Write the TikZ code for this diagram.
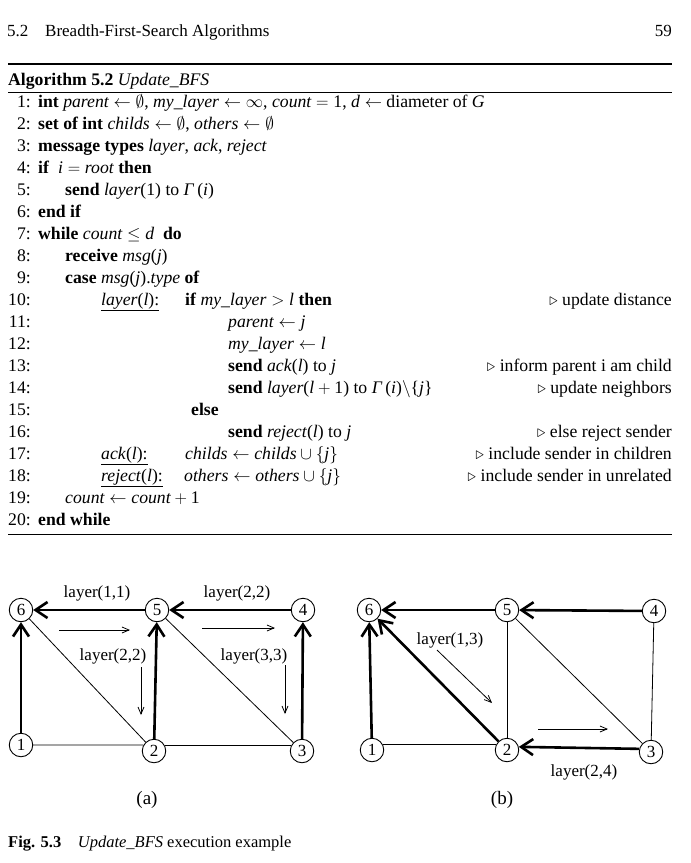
\documentclass[tikz,border=0pt]{standalone}
\usepackage{fontspec}
\setmainfont{Liberation Serif}
\usetikzlibrary{arrows.meta}
\begin{document}
\begin{tikzpicture}[x=1pt,y=-1pt,
    font=\fontsize{17.7}{22}\selectfont,
    txt/.style={inner sep=0pt,anchor=base west},
    num/.style={inner sep=0pt,anchor=base east},
    rem/.style={inner sep=0pt,anchor=base east},
    small/.style={font=\fontsize{17}{20}\selectfont},
    vertex/.style={draw,circle,minimum size=23.5pt,inner sep=0pt,line width=0.9pt,small},
    tree/.style={line width=2.6pt,-{Straight Barb[length=12pt,width=16pt]}},
    plain/.style={line width=0.8pt},
    msg/.style={line width=0.8pt,-{Straight Barb[length=7pt,width=6pt]}}]
  \useasboundingbox (0,0) rectangle (691,863);
  % running head
  \node[txt,font=\fontsize{17}{20}\selectfont] (sec) at (7,36) {5.2};
  \node[txt,font=\fontsize{17}{20}\selectfont] (head) at (45,36) {Breadth-First-Search Algorithms};
  \node[num,font=\fontsize{17}{20}\selectfont] (page) at (672,36) {59};
  % algorithm box
  \draw[line width=1.6pt] (8,64) -- (672,64);
  \node[txt] (title) at (8,85) {\textbf{Algorithm 5.2} \textit{Update\_BFS}};
  \draw[line width=0.8pt] (8,92) -- (672,92);
  \draw[line width=0.8pt] (8,534) -- (672,534);
  \node[num] (n1) at (31,107) {1:};
  \node[num] (n2) at (31,129) {2:};
  \node[num] (n3) at (31,151) {3:};
  \node[num] (n4) at (31,173) {4:};
  \node[num] (n5) at (31,195) {5:};
  \node[num] (n6) at (31,217) {6:};
  \node[num] (n7) at (31,239) {7:};
  \node[num] (n8) at (31,261) {8:};
  \node[num] (n9) at (31,283) {9:};
  \node[num] (n10) at (31,305) {10:};
  \node[num] (n11) at (31,327) {11:};
  \node[num] (n12) at (31,349) {12:};
  \node[num] (n13) at (31,371) {13:};
  \node[num] (n14) at (31,393) {14:};
  \node[num] (n15) at (31,415) {15:};
  \node[num] (n16) at (31,437) {16:};
  \node[num] (n17) at (31,459) {17:};
  \node[num] (n18) at (31,481) {18:};
  \node[num] (n19) at (31,503) {19:};
  \node[num] (n20) at (31,525) {20:};
  \node[txt] (l1) at (38,107) {\textbf{int} $\textit{parent}\leftarrow\emptyset$, $\textit{my\_layer}\leftarrow\infty$, $\textit{count}=\textup{1}$, $\textit{d}\leftarrow$ diameter of \textit{G}};
  \node[txt] (l2) at (38,129) {\textbf{set of int} $\textit{childs}\leftarrow\emptyset$, $\textit{others}\leftarrow\emptyset$};
  \node[txt] (l3) at (38,151) {\textbf{message types} \textit{layer}, \textit{ack}, \textit{reject}};
  \node[txt] (l4) at (38,173) {\textbf{if}\ \ $\textit{i}=\textit{root}$ \textbf{then}};
  \node[txt] (l5) at (65,195) {\textbf{send} \textit{layer}(1) to \textit{Γ}\,(\textit{i})};
  \node[txt] (l6) at (38,217) {\textbf{end if}};
  \node[txt] (l7) at (38,239) {\textbf{while} $\textit{count}\le\textit{d}$\ \ \textbf{do}};
  \node[txt] (l8) at (65,261) {\textbf{receive} \textit{msg}(\textit{j})};
  \node[txt] (l9) at (65,283) {\textbf{case} \textit{msg}(\textit{j}).\textit{type} \textbf{of}};
  \node[txt] (c10) at (101,305) {\underline{\textit{layer}(\textit{l}):}};
  \node[txt] (l10) at (185,305) {\textbf{if} $\textit{my\_layer}>\textit{l}$ \textbf{then}};
  \node[txt] (l11) at (228,327) {$\textit{parent}\leftarrow\textit{j}$};
  \node[txt] (l12) at (228,349) {$\textit{my\_layer}\leftarrow\textit{l}$};
  \node[txt] (l13) at (228,371) {\textbf{send} \textit{ack}(\textit{l}) to\ \textit{j}};
  \node[txt] (l14) at (228,393) {\textbf{send} \textit{layer}($\textit{l}+\textup{1}$) to \textit{Γ}\,(\textit{i})$\setminus$\{\textit{j}\}};
  \node[txt] (l15) at (191,415) {\textbf{else}};
  \node[txt] (l16) at (228,437) {\textbf{send} \textit{reject}(\textit{l}) to\ \textit{j}};
  \node[txt] (c17) at (101,459) {\underline{\textit{ack}(\textit{l}):}};
  \node[txt] (l17) at (185,459) {$\textit{childs}\leftarrow\textit{childs}\cup\{\textit{j}\}$};
  \node[txt] (c18) at (101,481) {\underline{\textit{reject}(\textit{l}):}};
  \node[txt] (l18) at (184,481) {$\textit{others}\leftarrow\textit{others}\cup\{\textit{j}\}$};
  \node[txt] (l19) at (65,503) {$\textit{count}\leftarrow\textit{count}+\textup{1}$};
  \node[txt] (l20) at (38,525) {\textbf{end while}};
  \node[rem] (r10) at (672,305) {$\triangleright$ update distance};
  \node[rem] (r13) at (672,371) {$\triangleright$ inform parent i am child};
  \node[rem] (r14) at (672,393) {$\triangleright$ update neighbors};
  \node[rem] (r16) at (672,437) {$\triangleright$ else reject sender};
  \node[rem] (r17) at (672,459) {$\triangleright$ include sender in children};
  \node[rem] (r18) at (672,481) {$\triangleright$ include sender in unrelated};
  % graph (a)
  \draw
    (21,610) node[vertex] (a6){6}
    (157,610) node[vertex] (a5){5}
    (303,610) node[vertex] (a4){4}
    (21,745) node[vertex] (a1){1}
    (154,751) node[vertex] (a2){2}
    (302,751) node[vertex] (a3){3};
  \begin{scope}[plain]
    \draw (a6) to (a2);
    \draw (a5) to (a3);
    \draw (a1) to (a2.150);
    \draw (a2.30) to (a3.150);
  \end{scope}
  \begin{scope}[tree]
    \draw (a1) to (a6);
    \draw (a5) to (a6);
    \draw (a4) to (a5);
    \draw (a2) to (a5);
    \draw (a3) to (a4);
  \end{scope}
  \coordinate (p1) at (59,630);  \coordinate (q1) at (130,630);
  \coordinate (p2) at (202,628); \coordinate (q2) at (275,628);
  \coordinate (p3) at (141,667); \coordinate (q3) at (141,715);
  \coordinate (p4) at (285,665); \coordinate (q4) at (285,714);
  \begin{scope}[msg]
    \draw (p1) to (q1);
    \draw (p2) to (q2);
    \draw (p3) to (q3);
    \draw (p4) to (q4);
  \end{scope}
  \node[small] (m1) at (97,593) {layer(1,1)};
  \node[small] (m2) at (237,593) {layer(2,2)};
  \node[small] (m3) at (113,656) {layer(2,2)};
  \node[small] (m4) at (254,656) {layer(3,3)};
  \node[font=\fontsize{19}{22}\selectfont] (capa) at (147,800) {(a)};
  % graph (b)
  \draw
    (369,610) node[vertex] (b6){6}
    (507,610) node[vertex] (b5){5}
    (654,611) node[vertex] (b4){4}
    (372,750) node[vertex] (b1){1}
    (507,750) node[vertex] (b2){2}
    (651,752) node[vertex] (b3){3};
  \begin{scope}[plain]
    \draw (b5) to (b2);
    \draw (b5) to (b3);
    \draw (b4) to (b3);
    \draw (b1.30) to (b2.150);
  \end{scope}
  \begin{scope}[tree]
    \draw (b1) to (b6);
    \draw (b5) to (b6);
    \draw (b4) to (b5);
    \draw (b2) to (b6);
    \draw (b3.165) to (b2.15);
  \end{scope}
  \coordinate (p5) at (437,650); \coordinate (q5) at (492,703);
  \coordinate (p6) at (538,729); \coordinate (q6) at (608,729);
  \begin{scope}[msg]
    \draw (p5) to (q5);
    \draw (p6) to (q6);
  \end{scope}
  \node[small] (m5) at (450,640) {layer(1,3)};
  \node[small] (m6) at (584,772) {layer(2,4)};
  \node[font=\fontsize{19}{22}\selectfont] (capb) at (502,800) {(b)};
  % caption
  \node[txt,font=\fontsize{16.5}{20}\selectfont] (fig) at (8,847) {\textbf{Fig. 5.3}\quad\textit{Update\_BFS} execution example};
\end{tikzpicture}
\end{document}
